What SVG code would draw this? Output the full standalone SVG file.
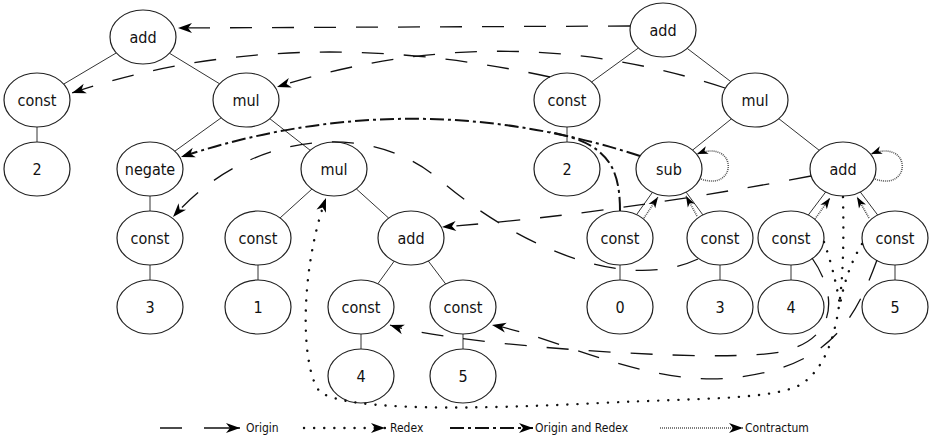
<svg xmlns="http://www.w3.org/2000/svg" width="931" height="439" viewBox="0 0 931 439">
<defs>
<marker id="ah" markerUnits="userSpaceOnUse" markerWidth="16" markerHeight="12" refX="14" refY="5" orient="auto" overflow="visible"><path d="M0,0 L14,5 L0,10 L4,5 Z" fill="#000"/></marker>
<marker id="ahs" markerUnits="userSpaceOnUse" markerWidth="13" markerHeight="10" refX="11" refY="4" orient="auto" overflow="visible"><path d="M0,0 L11,4 L0,8 L3,4 Z" fill="#000"/></marker>
</defs>
<style>
.n ellipse{fill:#fff;stroke:#222;stroke-width:1.2}
.n text{font-family:"DejaVu Sans Condensed","DejaVu Sans",sans-serif;font-size:16px;text-anchor:middle;fill:#111}
.e{stroke:#333;stroke-width:1;fill:none}
.origin{stroke:#111;stroke-width:1.3;fill:none;stroke-dasharray:22 20}
.redex{stroke:#111;stroke-width:2.4;fill:none;stroke-dasharray:0.1 10;stroke-linecap:round}
.both{stroke:#111;stroke-width:2;fill:none;stroke-dasharray:14 4 3 4}
.contr{stroke:#555;stroke-width:1.6;fill:none;stroke-dasharray:1 1}
.lg{font-family:"DejaVu Sans Condensed","DejaVu Sans",sans-serif;font-size:12px;fill:#111}
</style>
<rect width="931" height="439" fill="#fff"/>
<g id="edges">
<path class="e" d="M116.3,52.9 L63.7,84.1 M169.4,53.2 L219.6,83.8 M37,127 V142 M221.2,117.8 L174.8,151.2 M269.8,118.7 L310.2,150.3 M150,196 V211 M150,265 V280 M311.9,189.1 L280.1,217.9 M356.3,188.9 L388.7,218.1 M258,265 V280 M394.2,261.2 L377.8,283.8 M428.3,261 L445.7,284 M361,334 V349 M463,334 V349"/>
<path class="e" d="M638.4,48 L591.6,82 M687.2,48.4 L730.8,81.6 M567,127 V142 M731.4,118.9 L692.6,150.1 M778.8,118.7 L819.2,150.3 M652.4,192.4 L636.6,214.6 M686.1,192.1 L702.9,214.9 M620,265 V280 M720,265 V280 M825.7,192 L808.3,215 M860.3,192 L877.7,215 M791,265 V280 M895,265 V280"/>
</g>
<g id="l-add" class="n"><ellipse cx="143" cy="37" rx="33" ry="27"/><text x="143" y="43">add</text></g>
<g id="l-const-a" class="n"><ellipse cx="37" cy="100" rx="33" ry="27"/><text x="37" y="106">const</text></g>
<g id="l-2" class="n"><ellipse cx="37" cy="169" rx="33" ry="27"/><text x="37" y="175">2</text></g>
<g id="l-mul" class="n"><ellipse cx="246" cy="100" rx="33" ry="27"/><text x="246" y="106">mul</text></g>
<g id="l-negate" class="n"><ellipse cx="150" cy="169" rx="33" ry="27"/><text x="150" y="175">negate</text></g>
<g id="l-const-b" class="n"><ellipse cx="150" cy="238" rx="33" ry="27"/><text x="150" y="244">const</text></g>
<g id="l-3" class="n"><ellipse cx="150" cy="307" rx="33" ry="27"/><text x="150" y="313">3</text></g>
<g id="l-mul2" class="n"><ellipse cx="334" cy="169" rx="33" ry="27"/><text x="334" y="175">mul</text></g>
<g id="l-const-c" class="n"><ellipse cx="258" cy="238" rx="33" ry="27"/><text x="258" y="244">const</text></g>
<g id="l-1" class="n"><ellipse cx="258" cy="307" rx="33" ry="27"/><text x="258" y="313">1</text></g>
<g id="l-add2" class="n"><ellipse cx="411" cy="238" rx="33" ry="27"/><text x="411" y="244">add</text></g>
<g id="l-const-d" class="n"><ellipse cx="361" cy="307" rx="33" ry="27"/><text x="361" y="313">const</text></g>
<g id="l-const-e" class="n"><ellipse cx="463" cy="307" rx="33" ry="27"/><text x="463" y="313">const</text></g>
<g id="l-4" class="n"><ellipse cx="361" cy="376" rx="33" ry="27"/><text x="361" y="382">4</text></g>
<g id="l-5" class="n"><ellipse cx="463" cy="376" rx="33" ry="27"/><text x="463" y="382">5</text></g>
<g id="r-add" class="n"><ellipse cx="663" cy="30" rx="33" ry="27"/><text x="663" y="36">add</text></g>
<g id="r-const-a" class="n"><ellipse cx="567" cy="100" rx="33" ry="27"/><text x="567" y="106">const</text></g>
<g id="r-2" class="n"><ellipse cx="567" cy="169" rx="33" ry="27"/><text x="567" y="175">2</text></g>
<g id="r-mul" class="n"><ellipse cx="755" cy="100" rx="33" ry="27"/><text x="755" y="106">mul</text></g>
<g id="r-sub" class="n"><ellipse cx="669" cy="169" rx="33" ry="27"/><text x="669" y="175">sub</text></g>
<g id="r-add2" class="n"><ellipse cx="843" cy="169" rx="33" ry="27"/><text x="843" y="175">add</text></g>
<g id="r-const-b" class="n"><ellipse cx="620" cy="238" rx="33" ry="27"/><text x="620" y="244">const</text></g>
<g id="r-const-c" class="n"><ellipse cx="720" cy="238" rx="33" ry="27"/><text x="720" y="244">const</text></g>
<g id="r-const-d" class="n"><ellipse cx="791" cy="238" rx="33" ry="27"/><text x="791" y="244">const</text></g>
<g id="r-const-e" class="n"><ellipse cx="895" cy="238" rx="33" ry="27"/><text x="895" y="244">const</text></g>
<g id="r-0" class="n"><ellipse cx="620" cy="307" rx="33" ry="27"/><text x="620" y="313">0</text></g>
<g id="r-3" class="n"><ellipse cx="720" cy="307" rx="33" ry="27"/><text x="720" y="313">3</text></g>
<g id="r-4" class="n"><ellipse cx="791" cy="307" rx="33" ry="27"/><text x="791" y="313">4</text></g>
<g id="r-5" class="n"><ellipse cx="895" cy="307" rx="33" ry="27"/><text x="895" y="313">5</text></g>
<g id="connectors">
<path class="origin" d="M630,26 L178,28" marker-end="url(#ah)"/>
<path class="origin" d="M550,77 Q289,20 72,93" marker-end="url(#ah)"/>
<path class="origin" d="M725,88 Q502,15 277,87" marker-end="url(#ah)"/>
<path class="origin" d="M811,176 Q613,214 442,227" marker-end="url(#ah)"/>
<path class="origin" d="M698,259 C620,295 510,240 440,180 C370,120 250,130 173,217" marker-end="url(#ah)"/>
<path class="origin" d="M812,258 C838,295 838,340 780,352 S450,345 390,325" marker-end="url(#ah)"/>
<path class="origin" d="M877,260 C855,320 830,365 740,377 S560,338 492,325" marker-end="url(#ah)"/>
<path class="both" d="M640,156 Q410,81 181,157" marker-end="url(#ah)"/>
<path class="both" d="M620,211 C620,165 606,143 550,132"/>
<path class="redex" d="M843,197 C845,290 840,360 800,385 C770,400 700,398 600,403 C480,409 350,412 320,392 C300,368 300,270 326,198" marker-end="url(#ah)"/>
<path class="redex" d="M824,242 Q834,270 840,305"/>
<path class="redex" d="M862,244 Q846,270 840,305"/>
<path class="contr" d="M701,179 C738,192 738,138 697,154" marker-end="url(#ahs)"/>
<path class="contr" d="M875,179 C912,192 912,138 871,154" marker-end="url(#ahs)"/>
<path class="contr" d="M644,218 L658,197" marker-end="url(#ahs)"/>
<path class="contr" d="M697,216 L686,196" marker-end="url(#ahs)"/>
<path class="contr" d="M815,219 L830,198" marker-end="url(#ahs)"/>
<path class="contr" d="M869,218 L857,197" marker-end="url(#ahs)"/>
</g>
<g id="legend">
<path class="origin" d="M160,428 H240" style="stroke-dasharray:22 22 40" marker-end="url(#ah)"/>
<text class="lg" x="246" y="432">Origin</text>
<path class="redex" d="M304,428 H385" marker-end="url(#ah)"/>
<text class="lg" x="390" y="432">Redex</text>
<path class="both" d="M450,428 H533" marker-end="url(#ah)"/>
<text class="lg" x="535" y="432">Origin and Redex</text>
<path class="contr" d="M660,428 H743" marker-end="url(#ah)"/>
<text class="lg" x="745" y="432">Contractum</text>
</g>
</svg>
